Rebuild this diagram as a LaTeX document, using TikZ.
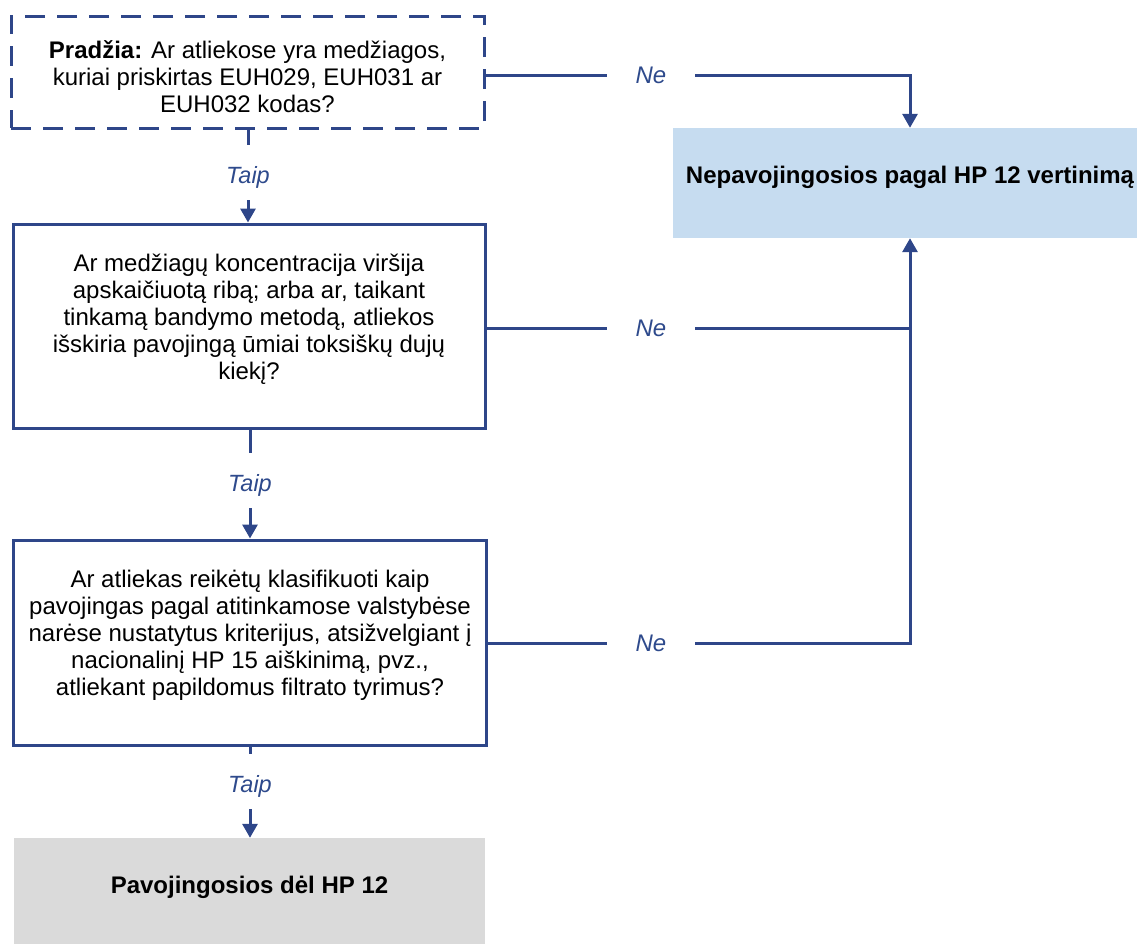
\documentclass[tikz,border=0pt]{standalone}
\usepackage{fontspec}
\setmainfont{Liberation Sans}
\usetikzlibrary{arrows.meta}
\definecolor{lineblue}{HTML}{2E4689}
\definecolor{labelblue}{HTML}{2E4A8C}
\definecolor{boxblue}{HTML}{C6DCF0}
\definecolor{boxgray}{HTML}{DADADA}
\begin{document}
\begin{tikzpicture}[x=1pt,y=-1pt,
  conn/.style={draw=lineblue,line width=3pt},
  arr/.style={conn,-{Triangle[width=15pt,length=14pt]}},
  qbox/.style={draw=lineblue,line width=3pt,align=center,inner sep=0pt,
    font=\fontsize{24}{27}\selectfont},
  endbox/.style={inner sep=0pt,font=\fontsize{24}{27}\selectfont\bfseries,
    text height=55pt,text depth=55pt},
  yeslbl/.style={inner sep=0pt,minimum height=55pt,text=labelblue,
    text height=27pt,text depth=5pt,
    font=\fontsize{23.5}{26}\selectfont\itshape},
  nolbl/.style={inner sep=0pt,minimum width=88pt,text=labelblue,
    font=\fontsize{24}{26}\selectfont\itshape}]
\useasboundingbox (0,0) rectangle (1137,943);
% boxes
\node[qbox,dashed,dash pattern=on 20pt off 12pt,minimum width=473pt,minimum height=112pt,text height=81pt,text depth=1pt] (b1) at (247.5,72)
  {\textbf{Pradžia:} Ar atliekose yra medžiagos,\\kuriai priskirtas EUH029, EUH031 ar\\EUH032 kodas?};
\node[qbox,minimum width=472pt,minimum height=204pt,text depth=18pt] (b2) at (249,326)
  {Ar medžiagų koncentracija viršija\\apskaičiuotą ribą; arba ar, taikant\\tinkamą bandymo metodą, atliekos\\išskiria pavojingą ūmiai toksiškų dujų\\kiekį?};
\node[qbox,minimum width=473pt,minimum height=205pt,text depth=19pt] (b3) at (250,642.5)
  {Ar atliekas reikėtų klasifikuoti kaip\\pavojingas pagal atitinkamose valstybėse\\narėse nustatytus kriterijus, atsižvelgiant į\\nacionalinį HP 15 aiškinimą, pvz.,\\atliekant papildomus filtrato tyrimus?};
\node[endbox,fill=boxgray,minimum width=471pt] (b4) at (249.5,893) {Pavojingosios dėl HP 12};
\node[endbox,fill=boxblue,minimum width=474pt] (nb) at (910,183) {Nepavojingosios pagal HP 12 vertinimą};
% labels
\node[yeslbl] (t1) at (248,172.5) {Taip};
\node[yeslbl] (t2) at (250,480.5) {Taip};
\node[yeslbl] (t3) at (250,781.5) {Taip};
\node[nolbl] (n1) at (651,75) {Ne};
\node[nolbl] (n2) at (651,328) {Ne};
\node[nolbl] (n3) at (651,643) {Ne};
\coordinate (j1) at (910,75);
\coordinate (j2) at (910,328);
\coordinate (j3) at (910,643);
% yes connectors
\draw[conn] (b1.south -| t1) -- (t1.north);
\draw[arr] (t1.south) -- (b2.north -| t1);
\draw[conn] (b2.south -| t2) -- (t2.north);
\draw[arr] (t2.south) -- (b3.north -| t2);
\draw[conn] (b3.south -| t3) -- (t3.north);
\draw[arr] (t3.south) -- (b4.north -| t3);
% no connectors
\draw[conn] (b1.east |- n1) -- (n1.west);
\draw[arr] (n1.east) -- (j1) -- (nb.north);
\draw[conn] (b2.east |- n2) -- (n2.west);
\draw[conn] (n2.east) -- (j2);
\draw[conn] (b3.east |- n3) -- (n3.west);
\draw[arr] (n3.east) -- (j3) -- (nb.south);
\end{tikzpicture}
\end{document}
